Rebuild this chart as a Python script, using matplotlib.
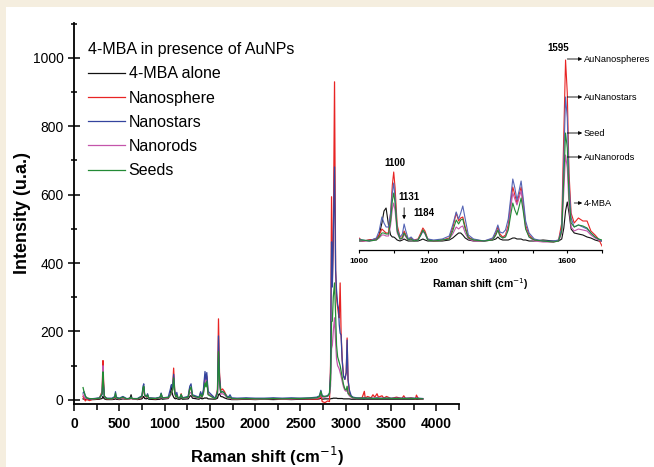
import matplotlib
matplotlib.use("Agg")
import matplotlib.pyplot as plt
from matplotlib.patches import Rectangle
from matplotlib.ticker import MultipleLocator

# --- main spectrum (Raman shift in cm-1, intensity in u.a.) ---
x_main = [100, 112, 125, 140, 170, 220, 280, 310, 320, 326, 335, 360, 420, 450, 458, 466,
          500, 540, 580, 620, 630, 640, 700, 750, 762, 770, 780, 800, 812, 825, 900, 950,
          962, 975, 1040, 1062, 1075, 1088, 1100, 1112, 1125, 1135, 1148, 1170, 1183, 1196,
          1260, 1278, 1292, 1308, 1380, 1398, 1412, 1428, 1446, 1456, 1466, 1480, 1560, 1584,
          1595, 1606, 1620, 1640, 1660, 1690, 1712, 1722, 1740, 1800, 1900, 2000, 2100, 2200,
          2300, 2400, 2500, 2600, 2680, 2710, 2725, 2740, 2770, 2800, 2820, 2832, 2843, 2852,
          2862, 2876, 2888, 2898, 2910, 2920, 2928, 2938, 2948, 2960, 2975, 2990, 3005, 3015,
          3025, 3040, 3060, 3080, 3120, 3180, 3205, 3215, 3240, 3280, 3300, 3320, 3345, 3360,
          3400, 3420, 3450, 3500, 3560, 3620, 3640, 3660, 3720, 3770, 3780, 3800, 3850]

red_main = [10, 3, -3, 2, -2, 3, 4, 25, 115, 60, 12, 3, 3, 5, 15, 5,
            3, 6, 2, 3, 6, 3, 2, 8, 30, 38, 12, 8, 14, 5, 3, 6,
            16, 5, 6, 15, 20, 30, 93, 25, 8, 15, 5, 6, 18, 5,
            8, 35, 33, 12, 6, 20, 8, 20, 70, 52, 70, 18, 3, 30,
            237, 80, 28, 32, 25, 8, 6, 8, 3, 2, 4, 2, 3, 4,
            2, 3, 4, 3, 2, 5, 15, -5, -8, -3, -5, 100, 594, 350,
            450, 930, 380, 300, 270, 250, 240, 342, 200, 120, 70, 60, 80, 181,
            60, 20, 10, 5, 4, 6, 25, 5, 10, 6, 15, 8, 18, 8,
            12, 5, 10, 4, 8, 4, 12, 4, 6, 3, 14, 4, 3]

blue_main = [20, 24, 10, 6, 3, 4, 6, 15, 70, 40, 10, 5, 5, 10, 24, 8,
             5, 10, 4, 4, 8, 4, 4, 12, 40, 47, 15, 10, 18, 6, 5, 8,
             20, 6, 8, 30, 45, 35, 75, 25, 12, 22, 6, 7, 15, 6,
             10, 40, 47, 15, 8, 24, 10, 30, 83, 60, 80, 25, 4, 25,
             187, 70, 22, 25, 20, 10, 10, 15, 6, 5, 6, 5, 5, 6,
             5, 6, 5, 6, 8, 12, 28, 12, 10, 12, 20, 80, 462, 330,
             480, 681, 380, 322, 280, 268, 220, 195, 190, 117, 70, 60, 80, 175,
             60, 29, 12, 8, 6, 5, 6, 5, 5, 5, 5, 5, 6, 5,
             5, 5, 5, 5, 5, 5, 5, 5, 5, 5, 5, 5, 4]

green_main = [36, 22, 12, 6, 4, 3, 5, 18, 82, 45, 10, 4, 3, 8, 20, 6,
              4, 8, 3, 4, 8, 4, 3, 10, 35, 40, 14, 9, 15, 5, 4, 7,
              18, 6, 7, 14, 22, 28, 64, 20, 8, 14, 5, 6, 16, 5,
              8, 30, 38, 12, 6, 17, 8, 18, 50, 38, 55, 15, 3, 20,
              141, 55, 22, 24, 20, 8, 6, 9, 4, 3, 4, 3, 3, 4,
              3, 4, 4, 5, 6, 10, 25, 10, 10, 12, 18, 60, 229, 230,
              300, 342, 250, 160, 126, 117, 110, 100, 85, 67, 45, 32, 29, 40,
              20, 15, 10, 6, 5, 5, 5, 5, 5, 5, 4, 4, 5, 4,
              4, 4, 5, 4, 4, 4, 4, 4, 4, 4, 4, 4, 3]

magenta_main = [15, 8, 5, 4, 3, 3, 5, 20, 100, 50, 10, 4, 3, 6, 15, 5,
                3, 6, 3, 3, 6, 3, 3, 8, 30, 35, 12, 8, 14, 5, 4, 6,
                16, 5, 6, 12, 18, 30, 70, 20, 8, 13, 5, 6, 15, 5,
                7, 20, 22, 10, 5, 16, 7, 20, 64, 50, 65, 18, 3, 18,
                113, 45, 17, 18, 15, 7, 5, 7, 3, 3, 4, 3, 3, 4,
                3, 3, 4, 4, 5, 8, 20, 8, 8, 10, 15, 40, 150, 160,
                200, 240, 170, 120, 100, 95, 90, 80, 70, 55, 38, 28, 25, 30,
                18, 12, 8, 5, 4, 4, 5, 4, 4, 4, 4, 4, 4, 4,
                4, 4, 4, 4, 4, 4, 4, 4, 4, 4, 4, 4, 3]

black_main = [3, 2, 2, 1, 1, 1, 2, 4, 10, 6, 3, 1, 1, 2, 4, 2,
              1, 3, 2, 6, 15, 4, 1, 3, 8, 10, 4, 3, 5, 2, 1, 2,
              4, 2, 4, 15, 42, 15, 8, 4, 3, 5, 2, 2, 5, 2,
              3, 10, 13, 5, 2, 6, 3, 4, 6, 5, 6, 3, 2, 5,
              15, 18, 10, 9, 6, 3, 2, 2, 1, 1, 2, 1, 2, 1,
              2, 1, 2, 2, 2, 3, 5, 2, 3, 3, 3, 3, 4, 4,
              5, 5, 5, 5, 4, 4, 4, 4, 4, 4, 3, 3, 3, 3,
              3, 3, 2, 2, 2, 2, 2, 2, 2, 2, 2, 2, 2, 2,
              2, 2, 2, 2, 2, 2, 2, 2, 2, 2, 2, 2, 2]

# --- inset 1000-1700 cm-1 ---
x_in = [1000, 1010, 1030, 1050, 1058, 1066, 1072, 1078, 1085, 1091, 1096, 1100, 1104, 1110,
        1118, 1125, 1130, 1135, 1142, 1150, 1158, 1170, 1178, 1184, 1190, 1198, 1215, 1240,
        1260, 1270, 1280, 1287, 1293, 1299, 1306, 1315, 1330, 1360, 1385, 1394, 1400, 1406,
        1414, 1422, 1430, 1437, 1443, 1449, 1455, 1461, 1467, 1473, 1480, 1490, 1505, 1530,
        1560, 1575, 1584, 1590, 1595, 1600, 1605, 1611, 1620, 1632, 1645, 1657, 1668, 1680,
        1690, 1700]

red_in = [5, 2, 3, 4, 8, 14, 12, 10, 10, 30, 58, 71, 55, 18,
          6, 6, 12, 8, 4, 5, 3, 4, 10, 15, 12, 4, 2, 3,
          5, 15, 30, 22, 25, 26, 16, 6, 3, 2, 4, 10, 16, 9,
          6, 8, 18, 40, 56, 48, 40, 48, 56, 40, 18, 8, 3, 2,
          1, 3, 20, 110, 183, 150, 70, 30, 20, 25, 22, 22, 12, 8,
          4, -3]
blue_in = [4, 3, 2, 5, 12, 26, 20, 16, 16, 30, 50, 60, 45, 14,
           6, 9, 19, 12, 4, 6, 3, 3, 8, 12, 10, 4, 3, 4,
           7, 18, 31, 24, 30, 37, 24, 8, 4, 2, 5, 12, 18, 11,
           10, 13, 24, 45, 64, 55, 43, 52, 62, 45, 22, 10, 4, 2,
           2, 3, 15, 85, 146, 125, 60, 25, 16, 18, 16, 14, 10, 6,
           4, 2]
green_in = [3, 3, 2, 3, 6, 10, 10, 9, 9, 22, 42, 50, 40, 12,
            4, 5, 10, 7, 3, 4, 2, 3, 8, 13, 10, 3, 2, 3,
            4, 12, 23, 19, 23, 24, 14, 5, 3, 2, 3, 8, 13, 7,
            5, 6, 13, 28, 40, 33, 28, 36, 45, 32, 14, 6, 3, 2,
            1, 2, 12, 65, 110, 95, 45, 20, 16, 18, 17, 15, 10, 6,
            4, 3]
magenta_in = [3, 2, 2, 3, 5, 8, 8, 7, 7, 18, 34, 40, 32, 10,
              4, 4, 9, 6, 3, 4, 2, 3, 8, 12, 9, 3, 2, 3,
              4, 9, 16, 14, 16, 17, 10, 4, 2, 2, 3, 8, 13, 7,
              5, 7, 15, 35, 50, 44, 38, 45, 52, 36, 15, 6, 2, 1,
              1, 2, 10, 52, 88, 75, 36, 16, 12, 14, 13, 12, 8, 5,
              3, 2]
black_in = [2, 2, 3, 4, 8, 20, 32, 35, 18, 8, 6, 6, 5, 3,
            2, 3, 4, 3, 2, 2, 2, 2, 3, 4, 3, 2, 2, 2,
            3, 5, 8, 10, 10, 8, 5, 3, 2, 2, 3, 4, 6, 4,
            3, 3, 3, 4, 5, 5, 4, 4, 4, 3, 3, 2, 2, 3,
            2, 2, 4, 15, 32, 41, 30, 14, 10, 9, 8, 6, 5, 3,
            2, 2]

labels = ["4-MBA alone", "Nanosphere", "Nanostars", "Nanorods", "Seeds"]
colors = ["#111111", "#e82424", "#34449e", "#c455aa", "#238a35"]

# inset annotations (peak labels and arrow labels)
peak_labels = ["1100", "1131", "1184", "1595"]
peak_label_pos = [(1104, 80), (1144, 46), (1187, 30), (1574, 195)]
arrow_labels = ["AuNanospheres", "AuNanostars", "Seed", "AuNanorods", "4-MBA"]
arrow_levels = [184, 146, 110, 86, 40]
arrow_start = [1600, 1600, 1600, 1600, 1620]

sans = ["Liberation Sans", "DejaVu Sans"]

fig = plt.figure(figsize=(6.54, 4.67), dpi=100)
fig.patch.set_facecolor("#f5eedf")
fig.add_artist(Rectangle((6 / 654, 0), 1, 1 - 7 / 467, transform=fig.transFigure,
                         facecolor="white", edgecolor="none", zorder=-5))

ax = fig.add_axes([74 / 654, 1 - 404 / 467, 385 / 654, 381 / 467])
ax.set_facecolor("none")

ax.plot(x_main, black_main, color=colors[0], lw=0.9, label=labels[0])
ax.plot(x_main, red_main, color=colors[1], lw=0.9, label=labels[1])
ax.plot(x_main, magenta_main, color=colors[3], lw=0.9, zorder=2.1)
ax.plot(x_main, blue_main, color=colors[2], lw=0.9, label=labels[2], zorder=2.2)
ax.plot([], [], color=colors[3], lw=0.9, label=labels[3])
ax.plot(x_main, green_main, color=colors[4], lw=0.9, label=labels[4], zorder=2.3)

ax.set_xlim(0, 4250)
ax.set_ylim(-12, 1102)
for s in ["top", "right"]:
    ax.spines[s].set_visible(False)
for s in ["left", "bottom"]:
    ax.spines[s].set_linewidth(1.3)
ax.xaxis.set_major_locator(MultipleLocator(500))
ax.xaxis.set_minor_locator(MultipleLocator(250))
ax.yaxis.set_major_locator(MultipleLocator(200))
ax.yaxis.set_minor_locator(MultipleLocator(100))
ax.tick_params(axis="y", which="major", direction="inout", length=9, width=1.1, pad=3)
ax.tick_params(axis="y", which="minor", direction="inout", length=5, width=1.1)
ax.tick_params(axis="x", which="major", direction="out", length=5, width=1.1, pad=4)
ax.tick_params(axis="x", which="minor", direction="out", length=4, width=1.1)
for t in ax.get_yticklabels():
    t.set_fontfamily(sans)
    t.set_fontsize(10)
for t in ax.get_xticklabels():
    t.set_fontfamily(sans)
    t.set_fontsize(10)
    t.set_fontweight("bold")

ax.set_xlabel("Raman shift (cm$^{-1}$)", fontsize=12, fontweight="bold", family=sans)
ax.xaxis.set_label_coords(0.5, (404 - 456) / 381)
ax.xaxis.label.set_va("center")
ax.set_ylabel("Intensity (u.a.)", fontsize=13, fontweight="bold", family=sans)
ax.yaxis.set_label_coords((22 - 74) / 385, 0.5)
ax.yaxis.label.set_va("center")

leg = ax.legend(title="4-MBA in presence of AuNPs", loc="upper left",
                bbox_to_anchor=((88 - 74) / 385, (404 - 42) / 381), frameon=False,
                borderpad=0, borderaxespad=0, handlelength=2.3, handletextpad=0.25,
                labelspacing=0.58, alignment="left",
                prop={"family": sans, "size": 11.5},
                title_fontproperties={"family": sans, "size": 11.5})

# --- inset ---
axi = fig.add_axes([359 / 654, 1 - 250 / 467, 243 / 654, 214 / 467])
axi.set_facecolor("none")
axi.plot(x_in, black_in, color=colors[0], lw=0.8)
axi.plot(x_in, red_in, color=colors[1], lw=0.8)
axi.plot(x_in, magenta_in, color=colors[3], lw=0.8)
axi.plot(x_in, blue_in, color="#5565b5", lw=0.8)
axi.plot(x_in, green_in, color=colors[4], lw=0.8)
axi.set_xlim(1000, 1700)
axi.set_ylim(-7, 207)
for s in ["top", "right", "left"]:
    axi.spines[s].set_visible(False)
axi.spines["bottom"].set_linewidth(0.9)
axi.set_yticks([])
axi.xaxis.set_major_locator(MultipleLocator(200))
axi.xaxis.set_minor_locator(MultipleLocator(100))
axi.tick_params(axis="x", which="both", direction="out", length=2.5, width=0.8, pad=3)
for t in axi.get_xticklabels():
    t.set_fontfamily(sans)
    t.set_fontsize(6)
    t.set_fontweight("bold")
axi.set_xlabel("Raman shift (cm$^{-1}$)", fontsize=7.5, fontweight="bold", family=sans)
axi.xaxis.set_label_coords(0.5, (250 - 284) / 214)
axi.xaxis.label.set_va("center")

for txt, (px, py) in zip(peak_labels, peak_label_pos):
    axi.text(px, py, txt, fontsize=7, fontweight="bold", family=sans,
             ha="center", va="center", clip_on=False)
axi.annotate("", xy=(1130, 21), xytext=(1130, 38),
             arrowprops=dict(arrowstyle="-|>", lw=0.6, color="black", mutation_scale=5))
for txt, lvl, x0 in zip(arrow_labels, arrow_levels, arrow_start):
    axi.annotate("", xy=(1643, lvl), xytext=(x0, lvl),
                 arrowprops=dict(arrowstyle="-|>", lw=0.6, color="black",
                                 mutation_scale=5, shrinkA=0, shrinkB=0),
                 annotation_clip=False)
    axi.text(1647, lvl, txt, fontsize=6.7, family=sans, ha="left", va="center",
             clip_on=False)

fig.savefig("out.png", dpi=100, facecolor=fig.get_facecolor())
